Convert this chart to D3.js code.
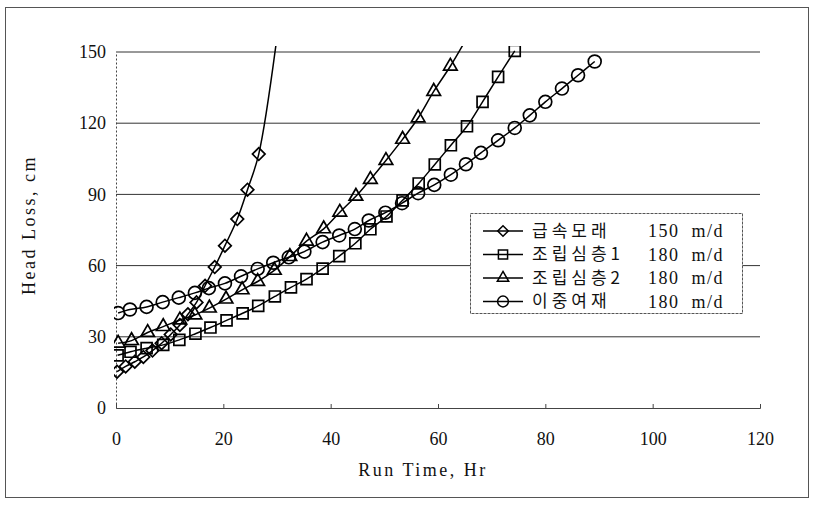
<!DOCTYPE html>
<html>
<head>
<meta charset="utf-8">
<script src="https://cdn.jsdelivr.net/npm/d3@7"></script>
<style>
  body { margin: 0; background: #fff; }
  svg { display: block; }
  text { font-family: "Liberation Serif", "DejaVu Serif", serif; fill: #111; }
  .kr { font-family: "Noto Sans CJK KR", sans-serif; }
</style>
</head>
<body>
<svg width="814" height="519"></svg>
<script>
// series names / rates
var seriesNames = ["급속모래", "조립심층1", "조립심층2", "이중여재"];
var seriesRates = ["150 m/d", "180 m/d", "180 m/d", "180 m/d"];
var seriesSymbols = ["diamond", "square", "triangle", "circle"];

// run time (hr) and head loss (cm)
var sandT = [0.2, 1.8, 3.5, 5.1, 6.8, 8.5, 10.2, 11.9, 13.4, 15, 16.6, 18.4, 20.3, 22.6, 24.5, 26.6, 30.5];
var sandH = [15.3, 17.5, 19.5, 21.5, 24.2, 27.3, 31, 35, 39.5, 44.5, 51.5, 59.4, 68.4, 79.6, 92, 107, 165];

var coarse1T = [0.3, 2.7, 5.7, 8.8, 11.8, 14.8, 17.6, 20.6, 23.6, 26.5, 29.6, 32.6, 35.5, 38.5, 41.6, 44.6, 47.4, 50.4, 53.4, 56.4, 59.4, 62.4, 65.4, 68.3, 71.2, 74.3];
var coarse1H = [22.2, 23.7, 25.2, 26.6, 28.7, 31.3, 33.9, 36.9, 39.9, 43, 47, 50.8, 54.3, 58.7, 64, 69.4, 75.3, 80.7, 87.5, 94.6, 102.6, 110.7, 118.7, 129, 139.5, 150.5];

var coarse2T = [0.4, 2.9, 5.9, 8.8, 11.9, 14.7, 17.4, 20.5, 23.5, 26.4, 29.5, 32.4, 35.5, 38.7, 41.7, 44.7, 47.4, 50.3, 53.4, 56.3, 59.2, 62.3, 65.4];
var coarse2H = [27.3, 28.4, 31.8, 34.3, 37.1, 39.2, 42.1, 45.9, 49.8, 53.3, 58, 63.8, 70.3, 75.5, 82.5, 89.2, 96.3, 104.3, 113.2, 122.2, 133.4, 144, 156];

var dualT = [0.4, 2.6, 5.7, 8.7, 11.7, 14.7, 17.3, 20.3, 23.3, 26.4, 29.3, 32.2, 35.1, 38.5, 41.6, 44.5, 47.1, 50.2, 53.3, 56.3, 59.3, 62.4, 65.2, 68, 71.2, 74.3, 77.1, 80, 83.1, 86.1, 89.2];
var dualH = [40, 41.5, 42.6, 44.6, 46.5, 48.5, 50.5, 52.5, 55.5, 58.6, 61.2, 63.5, 65.9, 69.9, 72.7, 75.4, 79, 82.3, 86.3, 90.5, 94, 98.3, 102.7, 107.5, 112.8, 118, 123.3, 129, 134.6, 140.2, 146];

var xTicks = [0, 20, 40, 60, 80, 100, 120];
var yTicks = [0, 30, 60, 90, 120, 150];

var svg = d3.select("svg"),
    margin = {top: 52, right: 54, bottom: 111, left: 116},
    width = +svg.attr("width") - margin.left - margin.right,
    height = +svg.attr("height") - margin.top - margin.bottom;

// outer frame of the figure
svg.append("rect")
    .attr("x", 5.5).attr("y", 7.5)
    .attr("width", 803).attr("height", 490)
    .attr("fill", "none")
    .attr("stroke", "#555")
    .attr("stroke-width", 1);

var x = d3.scaleLinear().domain([0, 120]).range([0, width]);
var y = d3.scaleLinear().domain([0, 150]).range([height, 0]);

var g = svg.append("g")
    .attr("transform", "translate(" + margin.left + "," + margin.top + ")");

// grid lines
g.append("g")
    .selectAll("line")
    .data(yTicks.filter(function(d) { return d > 0; }))
    .enter().append("line")
    .attr("x1", 0).attr("x2", width)
    .attr("y1", function(d) { return y(d); })
    .attr("y2", function(d) { return y(d); })
    .attr("stroke", "#333")
    .attr("stroke-width", 1);

var xAxis = d3.axisBottom(x).tickValues(xTicks).tickSize(-4).tickPadding(24),
    yAxis = d3.axisLeft(y).tickValues(yTicks).tickSize(0).tickPadding(10);

var gx = g.append("g")
    .attr("transform", "translate(0," + height + ")")
    .call(xAxis);
var gy = g.append("g").call(yAxis);

[gx, gy].forEach(function(a) {
    a.select(".domain").attr("stroke", "#444");
    a.selectAll(".tick line").attr("stroke", "#444");
    a.selectAll("text")
        .style("font-family", "Liberation Serif, serif")
        .style("font-size", "18px")
        .attr("fill", "#111");
});
gy.select(".domain").attr("stroke-dasharray", "2,2");

// axis titles
svg.append("text")
    .attr("x", margin.left + width / 2 - 15)
    .attr("y", 476)
    .attr("text-anchor", "middle")
    .style("font-size", "18px")
    .style("letter-spacing", "2.5px")
    .text("Run Time, Hr");

svg.append("text")
    .attr("transform", "translate(35," + (margin.top + height / 2 - 5) + ") rotate(-90)")
    .attr("text-anchor", "middle")
    .style("font-size", "18px")
    .style("letter-spacing", "2.5px")
    .text("Head Loss, cm");

// clip so steep curves end at the plot top
svg.append("defs").append("clipPath").attr("id", "plotclip")
    .append("rect")
    .attr("x", -2).attr("y", -6)
    .attr("width", width + 4).attr("height", height + 6);

var series = [
    {t: sandT, h: sandH},
    {t: coarse1T, h: coarse1H},
    {t: coarse2T, h: coarse2H},
    {t: dualT, h: dualH}
];

// diamond = square turned 45 degrees
var symbolType = {
    diamond: d3.symbolSquare,
    square: d3.symbolSquare,
    triangle: d3.symbolTriangle,
    circle: d3.symbolCircle
};
var symbolSize = {diamond: 80, square: 120, triangle: 80, circle: 130};
var symbolRot = {diamond: 45, square: 0, triangle: 0, circle: 0};

var line = d3.line()
    .x(function(d) { return x(d[0]); })
    .y(function(d) { return y(d[1]); })
    .curve(d3.curveCatmullRom.alpha(0.5));

var plot = g.append("g").attr("clip-path", "url(#plotclip)");

series.forEach(function(s, i) {
    var k = seriesSymbols[i];
    var pts = s.t.map(function(t, j) { return [t, s.h[j]]; });
    plot.append("path")
        .datum(pts)
        .attr("d", line)
        .attr("fill", "none")
        .attr("stroke", "#000")
        .attr("stroke-width", 1.5);
    var sym = d3.symbol().type(symbolType[k]).size(symbolSize[k]);
    plot.selectAll(".m" + i)
        .data(pts)
        .enter().append("path")
        .attr("class", "m" + i)
        .attr("d", sym)
        .attr("transform", function(d) {
            return "translate(" + x(d[0]) + "," + y(d[1]) + ") rotate(" + symbolRot[k] + ")";
        })
        .attr("fill", "none")
        .attr("stroke", "#000")
        .attr("stroke-width", 1.7);
});

// legend
var legend = svg.append("g").attr("transform", "translate(470,213)");
legend.append("rect")
    .attr("x", 0.5).attr("y", 0.5)
    .attr("width", 272).attr("height", 100)
    .attr("fill", "#fff")
    .attr("stroke", "#555")
    .attr("stroke-dasharray", "3,1");

seriesNames.forEach(function(name, i) {
    var k = seriesSymbols[i];
    var row = legend.append("g").attr("transform", "translate(0," + (18 + i * 23.5) + ")");
    row.append("line")
        .attr("x1", 13).attr("x2", 53)
        .attr("stroke", "#000").attr("stroke-width", 1.5);
    row.append("path")
        .attr("d", d3.symbol().type(symbolType[k]).size(symbolSize[k] * 0.7))
        .attr("transform", "translate(33,0) rotate(" + symbolRot[k] + ")")
        .attr("fill", "none").attr("stroke", "#000").attr("stroke-width", 1.5);
    row.append("text")
        .attr("class", "kr")
        .attr("x", 62).attr("dy", "0.35em")
        .style("font-size", "17px")
        .style("letter-spacing", "4px")
        .text(name);
    row.append("text")
        .attr("x", 178).attr("dy", "0.35em")
        .style("font-size", "18px")
        .style("letter-spacing", "1.5px")
        .style("white-space", "pre")
        .text(seriesRates[i].replace(" ", "  "));
});
</script>
</body>
</html>
